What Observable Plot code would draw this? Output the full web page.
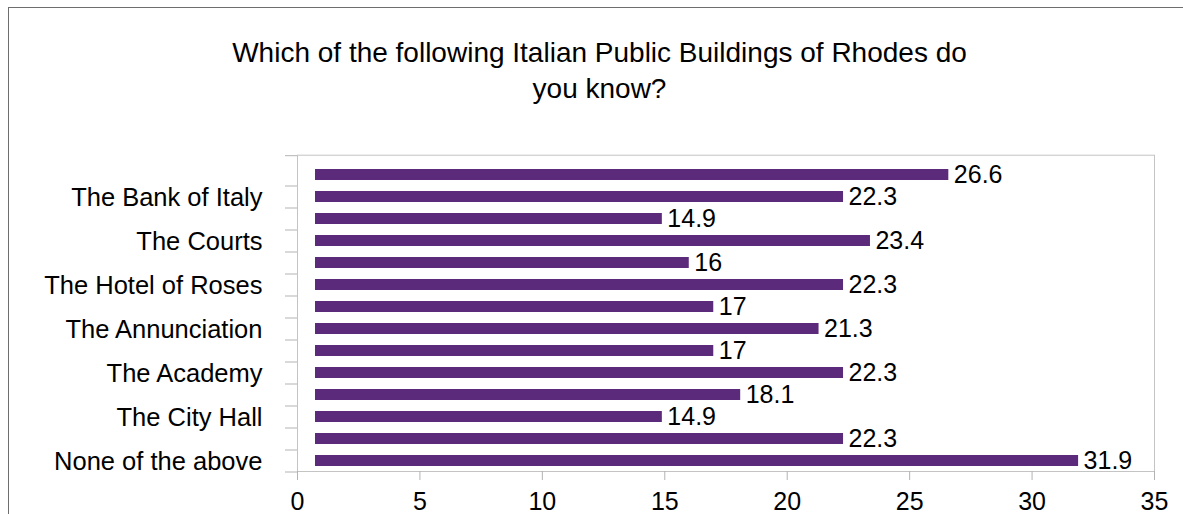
<!DOCTYPE html>
<html><head><meta charset="utf-8">
<script src="https://cdn.jsdelivr.net/npm/d3@7"></script>
<script src="https://cdn.jsdelivr.net/npm/@observablehq/plot@0.6"></script>
<style>
body{margin:0;background:#fff;font-family:"Liberation Sans",Arial,sans-serif;}
#wrap{position:relative;width:1183px;height:514px;overflow:hidden;}
#border{position:absolute;left:8px;top:7px;width:1300px;height:700px;border:1px solid #6e6e6e;box-sizing:border-box;}
#title{position:relative;height:140px;box-sizing:border-box;padding-top:35.3px;font-size:28px;line-height:35.5px;text-align:center;width:1199px;color:#000;white-space:nowrap;}
#chart{position:relative;height:374px;}
</style></head><body>
<div id="wrap"><div id="border"></div><div id="title">Which of the following Italian Public Buildings of Rhodes do<br>you know?</div><div id="chart"></div></div>
<script>
const categories = ["The Bank of Italy","The Courts","The Hotel of Roses","The Annunciation","The Academy","The City Hall","None of the above"];
const upperBars = [26.6, 14.9, 16, 17, 17, 18.1, 22.3];
const lowerBars = [22.3, 23.4, 22.3, 21.3, 22.3, 14.9, 31.9];
const xTicks = [0, 5, 10, 15, 20, 25, 30, 35];

const rows = categories.flatMap((c, i) => [
  {key: c + " (a)", cat: c, value: upperBars[i], labeled: false},
  {key: c, cat: c, value: lowerBars[i], labeled: true}
]);
const keys = rows.map(d => d.key);
const labeledKeys = rows.filter(d => d.labeled).map(d => d.key);
const axisGray = "#b3b3b3";

const chart = Plot.plot({
  width: 1183,
  height: 374,
  marginLeft: 297,
  marginRight: 29,
  marginTop: 14.7,
  marginBottom: 43,
  style: {fontFamily: "'Liberation Sans', Arial, sans-serif", background: "transparent", color: "black", overflow: "visible"},
  x: {domain: [0, 35]},
  y: {type: "band", domain: keys, range: [23, 331], paddingInner: 0.52, paddingOuter: 0.26},
  marks: [
    Plot.frame({stroke: "#c4c4c4"}),
    Plot.barX(rows, {x: "value", y: "key", fill: "#5b2a7b", insetLeft: 18}),
    Plot.text(rows, {x: "value", y: "key", text: d => String(d.value), textAnchor: "start", dx: 5, dy: 0, fontSize: 25, fill: "black"}),
    Plot.axisY({ticks: labeledKeys, tickSize: 0, tickPadding: 35, fontSize: 25.5, dy: 1, label: null, fill: "black"}),
    Plot.axisY({ticks: keys.slice(1), tickSize: 12, tickFormat: () => "", dy: -11, label: null, stroke: axisGray}),
    Plot.axisY({ticks: [keys[0]], tickSize: 12, tickFormat: () => "", dy: -19.3, label: null, stroke: axisGray}),
    Plot.axisY({ticks: [keys[keys.length - 1]], tickSize: 12, tickFormat: () => "", dy: 11, label: null, stroke: axisGray}),
    Plot.axisX({ticks: xTicks, tickSize: 9, tickPadding: 12, fontSize: 25, label: null, stroke: axisGray, fill: "black"})
  ]
});
document.getElementById("chart").appendChild(chart);
</script>
</body></html>
